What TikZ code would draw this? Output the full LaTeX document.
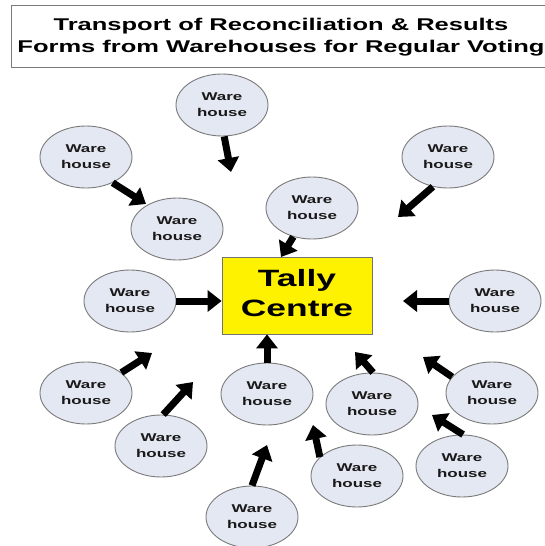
\documentclass[tikz,border=0pt]{standalone}
\usepackage{fontspec}
\newfontfamily\wfont{Liberation Sans}[FakeStretch=1.5]
\usetikzlibrary{shapes.geometric,arrows.meta}
\definecolor{ellfill}{HTML}{E4E8F3}
\definecolor{ellline}{HTML}{7A7A7A}
\begin{document}
\begin{tikzpicture}[x=1pt,y=-1pt,
  wh/.style={ellipse, draw=ellline, line width=0.9pt, fill=ellfill,
    minimum width=92pt, minimum height=62pt, inner sep=0pt, align=center,
    font=\wfont\bfseries\fontsize{11.3}{16}\selectfont, text=black!90},
  arr/.style={line width=7pt, -{Triangle[length=14pt,width=21pt]}},
  ttl/.style={anchor=base, inner sep=0pt, font=\wfont\bfseries\fontsize{17}{20}\selectfont},
  tally/.style={draw=black!55, line width=0.8pt, fill=yellow,
    minimum width=150pt, minimum height=77pt, inner sep=0pt},
]
\useasboundingbox (0,0) rectangle (545,546);
\draw[ellline, line width=0.9pt] (11,5) rectangle (600,67);
\node[ttl] (t1) at (281,30) {Transport of Reconciliation \& Results};
\node[ttl] (t2) at (281,52) {Forms from Warehouses for Regular Voting};

\node[tally] (T) at (297,295.5) {};
\node[align=center, font=\wfont\bfseries\fontsize{23.6}{30}\selectfont] (Tlab) at (297,293.5) {Tally\\Centre};

\node[wh] (A) at (222,105) {Ware\\house};
\node[wh] (B) at (86,157) {Ware\\house};
\node[wh] (C) at (448,157) {Ware\\house};
\node[wh] (D) at (177,229) {Ware\\house};
\node[wh] (E) at (312,208) {Ware\\house};
\node[wh] (F) at (130,301) {Ware\\house};
\node[wh] (G) at (495,301) {Ware\\house};
\node[wh] (H) at (86,393) {Ware\\house};
\node[wh] (I) at (267,394) {Ware\\house};
\node[wh] (J) at (372,404) {Ware\\house};
\node[wh] (K) at (492,393) {Ware\\house};
\node[wh] (L) at (161,446) {Ware\\house};
\node[wh] (M) at (462,466) {Ware\\house};
\node[wh] (N) at (357,476) {Ware\\house};
\node[wh] (O) at (252,517) {Ware\\house};

\coordinate (tA) at (231,172);
\coordinate (tB) at (146,204);
\coordinate (tC) at (398,217);
\coordinate (tE) at (281,257);
\coordinate (tG) at (403,301);
\coordinate (tH) at (152,353);
\coordinate (tJ) at (355,352);
\coordinate (tK) at (423,357);
\coordinate (tL) at (193,382);
\coordinate (tM) at (432,415);
\coordinate (tN) at (313,425);
\coordinate (tO) at (267,445);

\draw[arr] (A.274) -- (tA);
\draw[arr] (B.316) -- (tB);
\draw[arr] (C.243) -- (tC);
\draw[arr] (E.237) -- (tE);
\draw[arr] (F.east) -- (F -| T.west);
\draw[arr] (G.west) -- (tG);
\draw[arr] (H.30) -- (tH);
\draw[arr] (I.north) -- (I |- T.south);
\draw[arr] (J.88) -- (tJ);
\draw[arr] (K.158) -- (tK);
\draw[arr] (L.86) -- (tL);
\draw[arr] (M.88) -- (tM);
\draw[arr] (N.153) -- (tN);
\draw[arr] (O.90) -- (tO);
\end{tikzpicture}
\end{document}
